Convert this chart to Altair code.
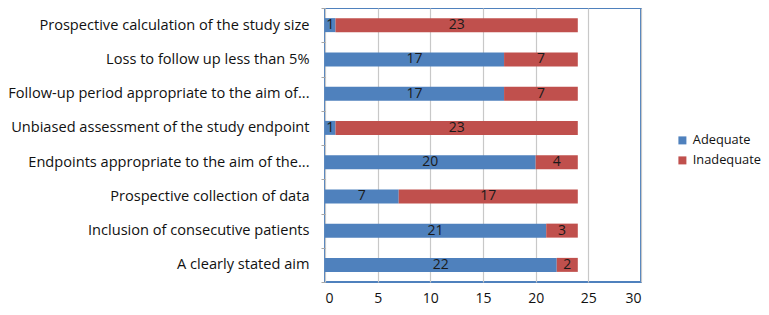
import altair as alt
import pandas as pd

categories = [
    "Prospective  calculation of the study size",
    "Loss to follow up less than 5%",
    "Follow-up period appropriate to the aim of...",
    "Unbiased assessment of the study endpoint",
    "Endpoints appropriate to the aim of the...",
    "Prospective collection of data",
    "Inclusion of consecutive patients",
    "A clearly stated aim",
]
adequate = [1, 17, 17, 1, 20, 7, 21, 22]
inadequate = [23, 7, 7, 23, 4, 17, 3, 2]
series = ["Adequate", "Inadequate"]
colors = ["#4F81BD", "#C0504D"]
x_ticks = [0, 5, 10, 15, 20, 25, 30]

rows = []
for c, a, i in zip(categories, adequate, inadequate):
    rows.append({"cat": c, "series": series[0], "order": 0, "value": a})
    rows.append({"cat": c, "series": series[1], "order": 1, "value": i})
df = pd.DataFrame(rows)

FONT = "Open Sans"
TXT = "#111111"

base = alt.Chart(df).transform_stack(
    stack="value", as_=["x0", "x1"], groupby=["cat"], sort=[alt.SortField("order")]
).transform_calculate(mid="(datum.x0 + datum.x1) / 2")

y_enc = alt.Y(
    "cat:N",
    sort=categories,
    title=None,
    scale=alt.Scale(paddingInner=0.0, paddingOuter=0.0),
    axis=alt.Axis(
        tickBand="extent",
        domain=False,
        ticks=True,
        tickSize=4,
        tickColor="#A6A6A6",
        labelPadding=12,
        labelFontSize=14.6,
        labelFont=FONT,
        labelColor=TXT,
        labelLimit=320,
        grid=False,
    ),
)

x_scale = alt.Scale(domain=[0, 30], nice=False)

bars = base.mark_bar(size=14).encode(
    y=y_enc,
    x=alt.X(
        "x0:Q",
        scale=x_scale,
        title=None,
        axis=alt.Axis(
            values=x_ticks,
            domain=False,
            ticks=False,
            grid=True,
            gridColor="#C8C8C8",
            gridWidth=1.2,
            labelFontSize=14,
            labelFont=FONT,
            labelColor=TXT,
            labelPadding=9,
        ),
    ),
    x2="x1:Q",
    color=alt.Color(
        "series:N",
        scale=alt.Scale(domain=series, range=colors),
        legend=alt.Legend(
            title=None,
            orient="none",
            legendX=351,
            legendY=126,
            symbolType="square",
            symbolSize=64,
            symbolStrokeWidth=0,
            labelFontSize=12.8,
            labelFont=FONT,
            labelColor=TXT,
            labelOffset=4,
            rowPadding=6,
            labelLimit=80,
        ),
    ),
    order=alt.Order("order:Q"),
)

labels = base.mark_text(fontSize=14, font=FONT, color="#1a1a1a", baseline="middle").encode(
    y=alt.Y("cat:N", sort=categories),
    x=alt.X("mid:Q", scale=x_scale),
    text="value:Q",
)

chart = (
    alt.layer(bars, labels)
    .properties(
        width=316,
        height=274,
        autosize=alt.AutoSizeParams(type="none"),
        padding={"left": 317, "top": 0, "right": 120, "bottom": 30},
    )
    .configure_view(stroke="#4F81BD", strokeWidth=2)
)

chart.save("out.html", embed_options={"renderer": "svg", "actions": False})
